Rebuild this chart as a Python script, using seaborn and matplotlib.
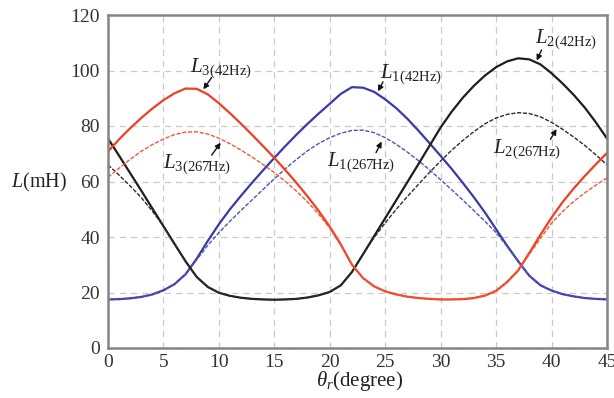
import matplotlib
matplotlib.use("Agg")
import matplotlib.pyplot as plt
import pandas as pd
import seaborn as sns

# ---------------- data ----------------
theta = list(range(46))  # rotor position, degree

L1_42 = [17.5, 17.6, 17.9, 18.4, 19.3, 20.8, 23.0, 26.6, 32.2, 38.6,
         44.6, 50.0, 54.9, 59.6, 64.1, 68.5, 72.8, 76.9, 80.8, 84.5,
         88.0, 91.6, 94.0, 93.8, 92.3, 89.6, 86.4, 82.6, 78.3, 73.8,
         69.2, 64.5, 59.5, 54.3, 48.8, 42.8, 36.8, 31.2, 26.0, 22.6,
         20.7, 19.4, 18.6, 18.0, 17.7, 17.5]
L1_267 = [17.5, 17.6, 17.9, 18.4, 19.3, 20.8, 23.0, 26.6, 31.8, 37.0,
          41.6, 45.7, 49.6, 53.4, 57.2, 61.0, 64.6, 68.0, 71.1, 73.7,
          75.8, 77.4, 78.4, 78.5, 77.6, 75.8, 73.4, 70.6, 67.5, 64.2,
          60.6, 57.0, 53.3, 49.5, 45.6, 41.6, 36.5, 31.2, 26.0, 22.6,
          20.7, 19.4, 18.6, 18.0, 17.7, 17.5]
L2_42 = [75.5, 69.3, 63.0, 56.7, 50.3, 43.9, 37.5, 31.2, 25.6, 22.0,
         19.9, 18.8, 18.1, 17.7, 17.5, 17.4, 17.5, 17.7, 18.2, 19.0,
         20.2, 22.6, 27.4, 33.8, 40.3, 46.8, 53.3, 59.8, 66.3, 72.9,
         79.5, 85.2, 90.2, 94.5, 98.2, 101.2, 103.3, 104.4, 104.0, 102.2,
         99.0, 95.3, 91.2, 86.6, 81.3, 75.5]
L2_267 = [66.0, 62.3, 58.4, 54.2, 49.3, 43.9, 37.5, 31.2, 25.6, 22.0,
          19.9, 18.8, 18.1, 17.7, 17.5, 17.4, 17.5, 17.7, 18.2, 19.0,
          20.2, 22.6, 27.4, 33.8, 39.8, 45.1, 50.0, 54.6, 59.0, 63.3,
          67.4, 71.3, 74.8, 78.0, 80.8, 82.9, 84.2, 84.8, 84.5, 83.3,
          81.3, 78.8, 76.0, 73.0, 69.6, 66.0]
L3_42 = [70.8, 75.2, 79.2, 82.9, 86.3, 89.3, 91.8, 93.5, 93.4, 91.4,
         88.2, 84.6, 80.8, 76.8, 72.7, 68.5, 64.1, 59.5, 54.6, 49.4,
         43.7, 37.3, 30.0, 25.2, 22.2, 20.4, 19.3, 18.5, 18.0, 17.7,
         17.5, 17.5, 17.6, 18.0, 18.9, 20.6, 23.8, 28.0, 34.3, 40.8,
         47.0, 52.6, 57.5, 62.0, 66.2, 70.3]
L3_267 = [61.5, 64.8, 68.0, 70.9, 73.3, 75.3, 76.9, 77.8, 77.9, 77.1,
          75.6, 73.6, 71.3, 68.8, 66.1, 63.2, 60.0, 56.5, 52.6, 48.2,
          43.2, 37.0, 30.0, 25.2, 22.2, 20.4, 19.3, 18.5, 18.0, 17.7,
          17.5, 17.5, 17.6, 18.0, 18.9, 20.6, 23.8, 28.0, 33.8, 39.5,
          45.0, 49.2, 52.8, 55.9, 58.7, 61.3]

series_names = ["L1_42", "L1_267", "L2_42", "L2_267", "L3_42", "L3_267"]
series_vals = [L1_42, L1_267, L2_42, L2_267, L3_42, L3_267]

x_ticks = [0, 5, 10, 15, 20, 25, 30, 35, 40, 45]
y_ticks = [0, 20, 40, 60, 80, 100, 120]

labels = {
    "L1_42": r"$L_{\mathrm{1(42Hz)}}$",
    "L1_267": r"$L_{\mathrm{1(267Hz)}}$",
    "L2_42": r"$L_{\mathrm{2(42Hz)}}$",
    "L2_267": r"$L_{\mathrm{2(267Hz)}}$",
    "L3_42": r"$L_{\mathrm{3(42Hz)}}$",
    "L3_267": r"$L_{\mathrm{3(267Hz)}}$",
}

# ---------------- table ----------------
rows = []
for name, vals in zip(series_names, series_vals):
    for t, v in zip(theta, vals):
        rows.append({"theta": t, "L": v, "curve": name})
df = pd.DataFrame(rows)

# ---------------- style ----------------
sns.set_style("white")
plt.rcParams["font.family"] = ["Liberation Serif", "DejaVu Serif"]
plt.rcParams["mathtext.fontset"] = "custom"
plt.rcParams["mathtext.rm"] = "Liberation Serif"
plt.rcParams["mathtext.it"] = "Liberation Serif:italic"
plt.rcParams["mathtext.bf"] = "Liberation Serif:bold"

styles = {
    "L1_42": dict(color="#3a3aa6", lw=1.6, ls="-"),
    "L1_267": dict(color="#5252b6", lw=1.0, ls=(0, (3, 1.2))),
    "L2_42": dict(color="#1e1e1e", lw=1.6, ls="-"),
    "L2_267": dict(color="#2c2c2c", lw=1.0, ls=(0, (3, 1.2))),
    "L3_42": dict(color="#ee3f22", lw=1.6, ls="-"),
    "L3_267": dict(color="#f0583c", lw=1.0, ls=(0, (3, 1.2))),
}

fig = plt.figure(figsize=(6.14, 3.98), dpi=100)
ax = fig.add_axes([108 / 614, 50 / 398, 499 / 614, 333 / 398])

for name in series_names:
    st = styles[name]
    sns.lineplot(data=df[df["curve"] == name], x="theta", y="L", ax=ax,
                 estimator=None, color=st["color"], linewidth=st["lw"],
                 linestyle=st["ls"], legend=False)

ax.set_xlim(0, 45)
ax.set_ylim(0, 120)
ax.set_xticks(x_ticks)
ax.set_yticks(y_ticks)
ax.set_xticklabels([str(v) for v in x_ticks])
ax.set_yticklabels([str(v) for v in y_ticks])
ax.grid(True, color="#c9c9c9", linestyle=(0, (5, 4)), linewidth=0.9)
ax.set_axisbelow(True)
ax.tick_params(axis="both", length=0, labelsize=14, colors="#333333")
ax.tick_params(axis="y", pad=6)
ax.tick_params(axis="x", pad=4)
for sp in ax.spines.values():
    sp.set_color("#858585")
    sp.set_linewidth(1.8)
ax.set_xlabel("")
ax.set_ylabel("")

ax.text(-0.082, 0.497, r"$L$(mH)", transform=ax.transAxes, ha="right",
        va="center", fontsize=14.5, color="#222222")
ax.text(0.505, -0.10, r"$\theta_r$(degree)", transform=ax.transAxes,
        ha="center", va="center", fontsize=15, color="#222222")

# ---------------- annotations ----------------
ann = [
    ("L3_42", (7.4, 99.5), (9.35, 97.5), (8.6, 93.2)),
    ("L3_267", (4.96, 64.9), (9.35, 69.5), (10.16, 74.0)),
    ("L1_42", (24.5, 97.3), (24.8, 95.9), (24.35, 92.5)),
    ("L1_267", (19.75, 65.6), (24.17, 70.4), (24.68, 74.4)),
    ("L2_42", (38.5, 109.9), (39.1, 107.4), (38.66, 103.6)),
    ("L2_267", (34.7, 70.3), (39.9, 75.2), (40.45, 78.9)),
]
for name, tpos, tail, head in ann:
    ax.text(tpos[0], tpos[1], labels[name], ha="left", va="baseline",
            fontsize=15, color="#222222")
    ax.annotate("", xy=head, xytext=tail,
                arrowprops=dict(arrowstyle="-|>", color="#111111", lw=1.0,
                                mutation_scale=8, shrinkA=0, shrinkB=0))

fig.savefig("out.png", dpi=100)
